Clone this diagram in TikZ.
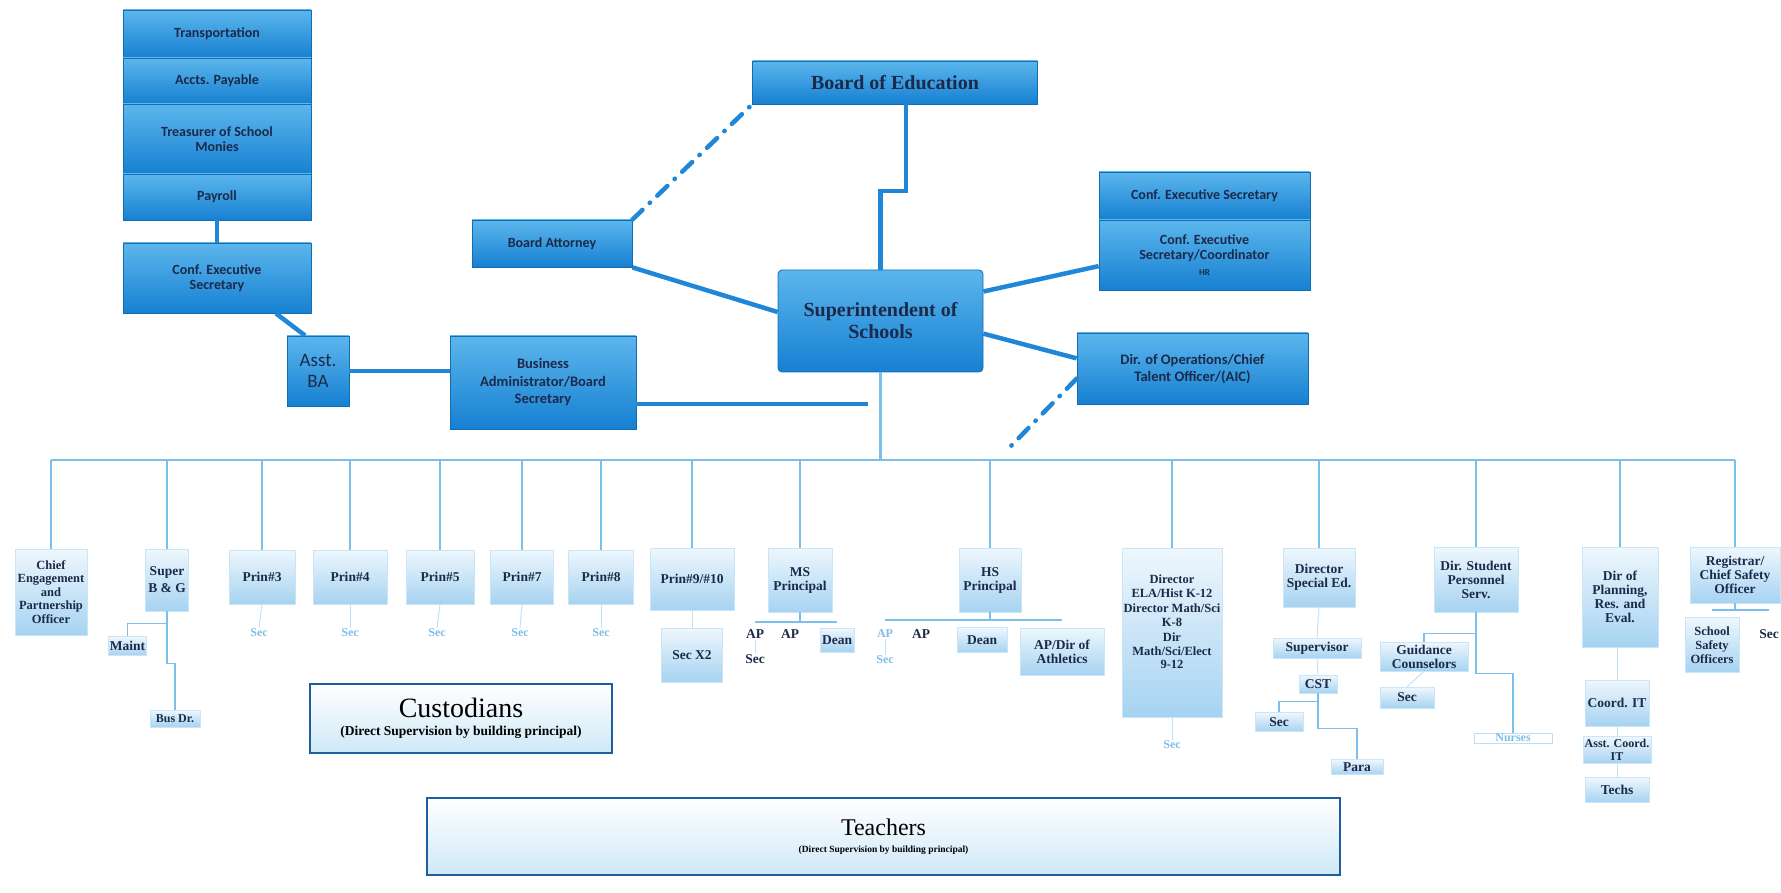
\documentclass[tikz,border=0pt]{standalone}
\usepackage{fontspec}
\setmainfont{Liberation Serif}
\newfontfamily\carlfont{Carlito}
\usetikzlibrary{calc}
\definecolor{navy}{HTML}{1B2A4A}
\definecolor{topA}{HTML}{5CB6EC}
\definecolor{topB}{HTML}{1680D2}
\definecolor{lowA}{HTML}{EEF7FD}
\definecolor{lowB}{HTML}{A6D3F1}
\definecolor{lineT}{HTML}{1F86D8}
\definecolor{lineL}{HTML}{7CBFEB}
\definecolor{faintc}{HTML}{7FBDE8}
\definecolor{frameB}{HTML}{1D5E9E}
\definecolor{frameF}{HTML}{CFE8F8}
\begin{document}
\begin{tikzpicture}[x=1pt,y=-1pt,
  topbox/.style={draw=topB!85!black, line width=0.8, top color=topA, bottom color=topB,
    text=navy, align=center, inner sep=2, font=\carlfont\bfseries\fontsize{14}{15.5}\selectfont},
  lowbox/.style={draw=lowB!60, line width=0.6, top color=lowA, bottom color=lowB,
    text=navy, align=center, inner sep=1.5, font=\bfseries\fontsize{13.5}{14}\selectfont},
  lbl/.style={text=navy, align=center, inner sep=1, font=\bfseries\fontsize{13.5}{14}\selectfont},
  faint/.style={text=faintc, align=center, inner sep=1, font=\bfseries\fontsize{12}{13}\selectfont},
  framebox/.style={draw=frameB, line width=1.8, top color=white, bottom color=frameF,
    text=black, align=center},
  conn/.style={draw=lineT, line width=4.5},
  lowconn/.style={draw=lineL, line width=2.2},
  faintline/.style={draw=lineL!45, line width=1},
  dashdot/.style={draw=lineT, line width=4.5, line cap=round,
    dash pattern=on 14pt off 10pt on 0.5pt off 10pt}
]
\useasboundingbox (0,0) rectangle (1781,893);

% ---------- upper part ----------
\node[topbox,minimum width=188,minimum height=48] (trans) at (217,34) {Transportation};
\node[topbox,minimum width=188,minimum height=46] (accts) at (217,81) {Accts. Payable};
\node[topbox,minimum width=188,minimum height=70] (treas) at (217,139) {Treasurer of School\\Monies};
\node[topbox,minimum width=188,minimum height=46] (payroll) at (217,197) {Payroll};
\node[topbox,minimum width=188,minimum height=70] (confL) at (217,278) {Conf. Executive\\Secretary};
\node[topbox,minimum width=62,minimum height=70,font=\carlfont\fontsize{19}{21}\selectfont] (asst) at (318,371) {Asst.\\BA};
\node[topbox,minimum width=186,minimum height=93,font=\carlfont\bfseries\fontsize{14.5}{17.5}\selectfont] (busadm) at (543,382.5) {Business\\Administrator/Board\\Secretary};
\node[topbox,minimum width=160,minimum height=47] (atty) at (552,243.5) {Board Attorney};
\node[topbox,minimum width=285,minimum height=43,font=\bfseries\fontsize{20}{22}\selectfont] (boe) at (895,82.5) {Board of Education};
\node[topbox,minimum width=205,minimum height=102,rounded corners=4,font=\bfseries\fontsize{20}{22}\selectfont] (supt) at (880.5,321) {Superintendent of\\Schools};
\node[topbox,minimum width=211,minimum height=48] (confR1) at (1204.5,196) {Conf. Executive Secretary};
\node[topbox,minimum width=211,minimum height=70] (confR2) at (1204.5,255) {Conf. Executive\\Secretary/Coordinator\\{\fontsize{9}{10}\selectfont HR}};
\node[topbox,minimum width=231,minimum height=71,font=\carlfont\bfseries\fontsize{14.5}{17}\selectfont] (dirops) at (1192.5,368.5) {Dir. of Operations/Chief\\Talent Officer/(AIC)};

\draw[conn] (payroll.south) -- (confL.north);
\draw[conn] (confL.-31) -- (asst.110);
\draw[conn] (asst.east) -- (asst.east -| busadm.west);
\coordinate (bajoin) at (868,404);
\draw[conn] (busadm.east |- bajoin) -- (bajoin);
\draw[conn] (atty.south east) -- (supt.175);
\draw[dashdot] (atty.north east) -- (boe.south west);
\coordinate (boejog) at (906,191);
\draw[conn] (boejog |- boe.south) -- (boejog) -| (supt.north);
\draw[conn] (supt.16.8) -- (confR2.186.5);
\draw[conn] (supt.-7.8) -- (dirops.175.3);
\coordinate (ddend) at (1010,447);
\draw[dashdot] (dirops.185.1) -- (ddend);

% ---------- second level ----------
\node[lowbox,minimum width=72,minimum height=86,font=\bfseries\fontsize{12.5}{13.5}\selectfont] (chief) at (51,592) {Chief\\Engagement\\and\\Partnership\\Officer};
\node[lowbox,minimum width=43,minimum height=62] (superbg) at (167,580) {Super\\[3pt]B \& G};
\node[lowbox,minimum width=66,minimum height=54] (p3) at (262,577) {Prin\#3};
\node[lowbox,minimum width=74,minimum height=54] (p4) at (350,577) {Prin\#4};
\node[lowbox,minimum width=68,minimum height=54] (p5) at (440,577) {Prin\#5};
\node[lowbox,minimum width=63,minimum height=54] (p7) at (522,577) {Prin\#7};
\node[lowbox,minimum width=65,minimum height=54] (p8) at (601,577) {Prin\#8};
\node[lowbox,minimum width=84,minimum height=62] (p910) at (692,579) {Prin\#9/\#10};
\node[lowbox,minimum width=64,minimum height=64] (ms) at (800,580) {MS\\Principal};
\node[lowbox,minimum width=62,minimum height=64] (hs) at (990,580) {HS\\Principal};
\node[lowbox,minimum width=100,minimum height=169] (ela) at (1172,632.5) {};
\node[lbl,font=\bfseries\fontsize{12.5}{13.5}\selectfont] (elaT) at (1172,622) {Director\\ELA/Hist K-12\\[2pt]Director Math/Sci\\K-8\\[2pt]Dir\\Math/Sci/Elect\\9-12};
\node[lowbox,minimum width=72,minimum height=59] (sped) at (1319,577.5) {Director\\Special Ed.};
\node[lowbox,minimum width=84,minimum height=65] (dsps) at (1476,579.5) {Dir. Student\\Personnel\\Serv.};
\node[lowbox,minimum width=76,minimum height=100] (dpre) at (1620,597) {Dir of\\Planning,\\Res. and\\Eval.};
\node[lowbox,minimum width=90,minimum height=56] (reg) at (1735,575) {Registrar/\\Chief Safety\\Officer};

\coordinate (bar) at (0,460);
\draw[lowconn,line width=2.6] (supt.south) -- (supt.south |- bar);
\draw[lowconn,line width=2.6] (chief.north |- bar) -- (reg.north |- bar);
\foreach \n in {chief,superbg,p3,p4,p5,p7,p8,p910,ms,hs,ela,sped,dsps,dpre,reg}
  \draw[lowconn] (\n.north |- bar) -- (\n.north);

% ---------- third level ----------
\node[faint] (s3) at (259,633) {Sec};
\node[faint] (s4) at (350,633) {Sec};
\node[faint] (s5) at (437,633) {Sec};
\node[faint] (s7) at (520,633) {Sec};
\node[faint] (s8) at (601,633) {Sec};
\foreach \a/\b in {p3/s3,p4/s4,p5/s5,p7/s7,p8/s8}
  \draw[faintline] (\a.south) -- (\b.north);

\node[lowbox,minimum width=38,minimum height=19] (maint) at (127.5,646) {Maint};
\node[lowbox,minimum width=50,minimum height=17,font=\bfseries\fontsize{12}{13}\selectfont] (busdr) at (175,718.5) {Bus Dr.};
\draw[lowconn,line width=1.6] (superbg.south) -- ++(0,52) -| (busdr.north);
\draw[lowconn,line width=1.6] ($(superbg.south)+(0,12)$) -| (maint.north);

\node[lowbox,minimum width=61,minimum height=54] (secx2) at (692,655) {Sec X2};
\draw[faintline] (p910.south) -- (secx2.north);

\coordinate (msbar) at (0,622);
\node[lbl] (msap1) at (755,634) {AP};
\node[lbl] (msap2) at (790,634) {AP};
\node[lowbox,minimum width=34,minimum height=24] (msdean) at (837,640) {Dean};
\node[lbl] (mssec) at (755,659) {Sec};
\draw[lowconn,line width=1.4] (ms.south) -- (ms.south |- msbar);
\draw[lowconn,line width=1.4] (msap1.north |- msbar) -- (msdean.north |- msbar);
\draw[faintline] (msap1.south) -- (mssec.north);

\coordinate (hsbar) at (0,620);
\node[faint] (hsap1) at (885,634) {AP};
\node[faint] (hssec) at (885,660) {Sec};
\node[lbl] (hsap2) at (921,634) {AP};
\node[lowbox,minimum width=50,minimum height=25] (hsdean) at (982,640) {Dean};
\node[lowbox,minimum width=84,minimum height=47] (hsath) at (1062,651.5) {AP/Dir of\\Athletics};
\draw[lowconn,line width=1.4] (hs.south) -- (hs.south |- hsbar);
\draw[lowconn,line width=1.4] (hsap1.north |- hsbar) -- (hsath.north |- hsbar);
\draw[faintline] (hsap1.south) -- (hssec.north);

\node[faint] (elasec) at (1172,745) {Sec};
\draw[faintline] (ela.south) -- (elasec.north);

\node[lowbox,minimum width=88,minimum height=20] (superv) at (1317,648) {Supervisor};
\node[lowbox,minimum width=38,minimum height=18] (cst) at (1318,684) {CST};
\node[lowbox,minimum width=48,minimum height=19] (spsec) at (1279,722) {Sec};
\node[lowbox,minimum width=52,minimum height=15] (para) at (1357,767) {Para};
\draw[faintline] (sped.south) -- (superv.north);
\draw[faintline] (superv.south) -- (cst.north);
\draw[lowconn,line width=1.6] (cst.south) -- ++(0,8) -| (spsec.north);
\draw[lowconn,line width=1.6] (cst.south) -- ++(0,35) -| (para.north);

\node[lowbox,minimum width=88,minimum height=29] (guid) at (1424,656.5) {Guidance\\Counselors};
\node[lowbox,minimum width=54,minimum height=21] (dssec) at (1407,697.5) {Sec};
\node[faint,draw=faintc!50,minimum width=78,minimum height=10] (nurses) at (1513,738) {Nurses};
\draw[lowconn,line width=1.6] (dsps.south) -- ++(0,21) -| (guid.north);
\draw[lowconn,line width=1.6] (dsps.south) -- ++(0,61) -| (nurses.north);
\draw[faintline] (guid.south) -- (dssec.north);

\node[lowbox,minimum width=64,minimum height=46] (coordit) at (1617,703) {Coord. IT};
\node[lowbox,minimum width=64,minimum height=27,font=\bfseries\fontsize{12}{13}\selectfont] (acoord) at (1617,750) {Asst. Coord.\\IT};
\node[lowbox,minimum width=64,minimum height=25] (techs) at (1617,790) {Techs};
\draw[faintline] (dpre.south -| coordit.north) -- (coordit.north);
\draw[faintline] (coordit.south) -- (acoord.north);
\draw[faintline] (acoord.south) -- (techs.north);

\coordinate (regbar) at (0,610);
\node[lowbox,minimum width=54,minimum height=55,font=\bfseries\fontsize{12.5}{14}\selectfont] (sso) at (1712,645) {School\\Safety\\Officers};
\node[lbl] (regsec) at (1769,634) {Sec};
\draw[lowconn,line width=1.4] (reg.south) -- (reg.south |- regbar);
\draw[lowconn,line width=1.4] (sso.north |- regbar) -- (regsec.north |- regbar);

% ---------- framed boxes ----------
\node[framebox,minimum width=302,minimum height=69] (cust) at (461,718.5)
  {{\fontsize{28}{30}\selectfont Custodians}\\[6pt]{\bfseries\fontsize{13.5}{15}\selectfont (Direct Supervision by building principal)}};
\node[framebox,minimum width=913,minimum height=77] (teach) at (883.5,836.5)
  {{\fontsize{24}{26}\selectfont Teachers}\\[5pt]{\bfseries\fontsize{9.5}{12}\selectfont (Direct Supervision by building principal)}};
\end{tikzpicture}
\end{document}
